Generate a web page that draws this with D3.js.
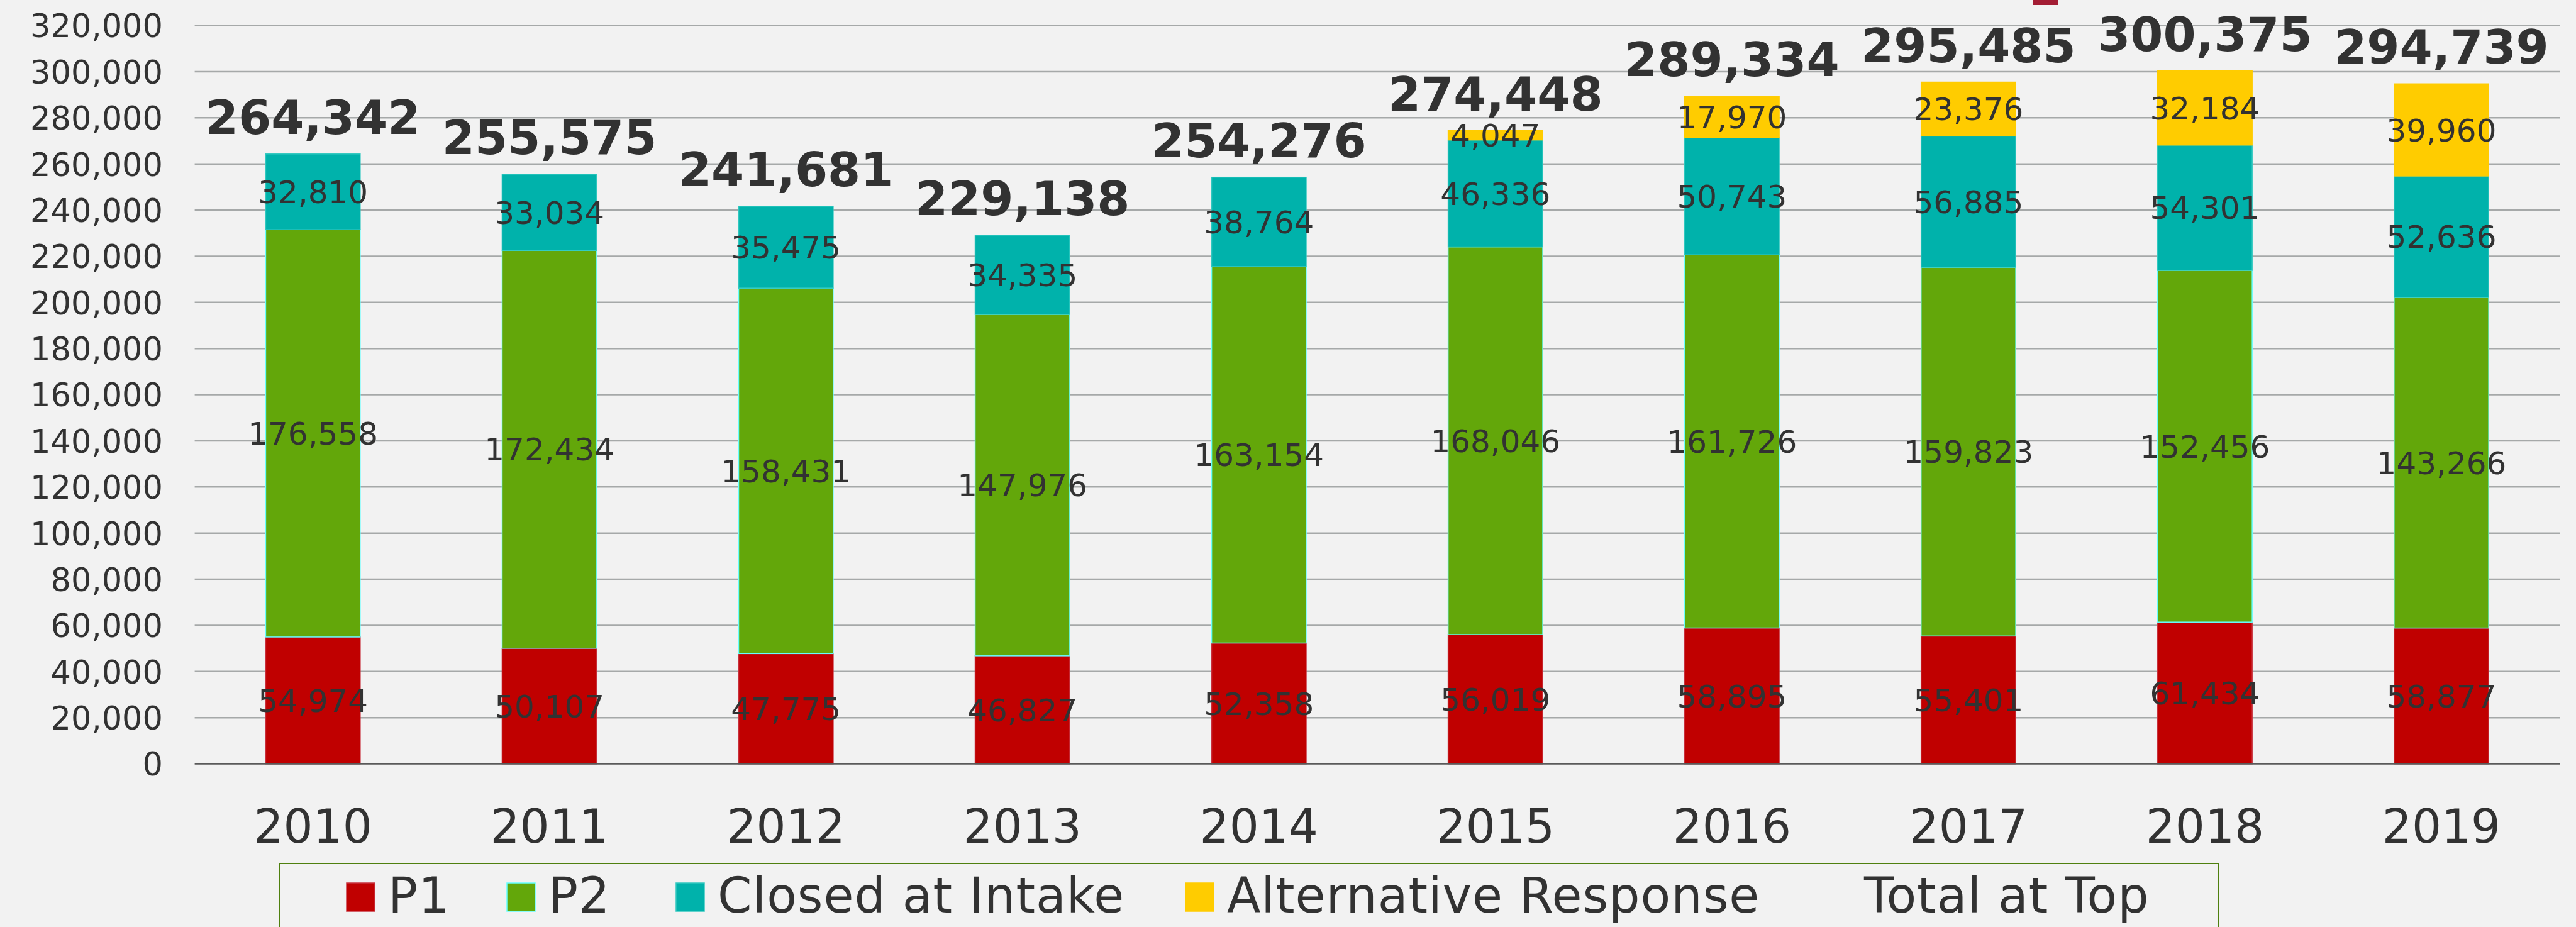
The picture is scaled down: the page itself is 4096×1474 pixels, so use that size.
<!DOCTYPE html>
<html>
<head>
<meta charset="utf-8">
<script src="https://d3js.org/d3.v7.min.js"></script>
<style>
  body { margin: 0; background: #f2f2f2; }
  text { font-family: "DejaVu Sans", sans-serif; fill: #323232; }
</style>
</head>
<body>
<script>
// data
var years = ["2010", "2011", "2012", "2013", "2014", "2015", "2016", "2017", "2018", "2019"];
var p1 = [54974, 50107, 47775, 46827, 52358, 56019, 58895, 55401, 61434, 58877];
var p2 = [176558, 172434, 158431, 147976, 163154, 168046, 161726, 159823, 152456, 143266];
var closedIntake = [32810, 33034, 35475, 34335, 38764, 46336, 50743, 56885, 54301, 52636];
var altResponse = [0, 0, 0, 0, 0, 4047, 17970, 23376, 32184, 39960];
var totals = [264342, 255575, 241681, 229138, 254276, 274448, 289334, 295485, 300375, 294739];
var yTicks = [0, 20000, 40000, 60000, 80000, 100000, 120000, 140000, 160000, 180000, 200000,
              220000, 240000, 260000, 280000, 300000, 320000];
var seriesNames = ["P1", "P2", "Closed at Intake", "Alternative Response", "Total at Top"];

var width = 4096, height = 1474;

var svg = d3.select("body").append("svg")
    .attr("width", width)
    .attr("height", height);

svg.append("rect")
    .attr("width", width)
    .attr("height", height)
    .attr("fill", "#f2f2f2");

var colors = {"P1": "#c00000", "P2": "#63a70a", "Closed at Intake": "#00b2ab", "Alternative Response": "#ffcc00"};
var strokes = {"P1": "#c8303c", "P2": "#66ffff", "Closed at Intake": "#30c8c0", "Alternative Response": "#ffcc00"};

// scales
var xScale = d3.scaleBand().domain(years).range([309.6, 4070]).paddingInner(0.6).paddingOuter(0.3);
var yScale = d3.scaleLinear().domain([0, 320000]).range([1214.6, 40.6]);

// gridlines
svg.append("g").selectAll("line")
    .data(yTicks.filter(function(d) { return d > 0; }))
  .enter().append("line")
    .attr("x1", 309.6).attr("x2", 4070)
    .attr("y1", function(d) { return yScale(d); })
    .attr("y2", function(d) { return yScale(d); })
    .attr("stroke", "#a6a9a9")
    .attr("stroke-width", 2.5);

// y axis labels
var yAxis = d3.axisLeft(yScale).tickValues(yTicks).tickSize(0).tickPadding(0)
    .tickFormat(d3.format(","));
var yg = svg.append("g")
    .attr("transform", "translate(259,0)")
    .call(yAxis);
yg.select(".domain").remove();
yg.selectAll("text")
    .attr("fill", "#323232")
    .style("font-size", "51px")
    .attr("dy", "0.36em");

// stack the data
var rows = years.map(function(y, i) {
  return {year: y, "P1": p1[i], "P2": p2[i], "Closed at Intake": closedIntake[i], "Alternative Response": altResponse[i]};
});
var stack = d3.stack().keys(seriesNames.slice(0, 4));
var layers = stack(rows);

var groups = svg.append("g").selectAll("g")
    .data(layers)
  .enter().append("g")
    .attr("fill", function(d) { return colors[d.key]; })
    .attr("stroke", function(d) { return strokes[d.key]; })
    .attr("stroke-width", 1.5);

groups.selectAll("rect")
    .data(function(d) { return d.filter(function(e) { return e[1] > e[0]; }); })
  .enter().append("rect")
    .attr("x", function(d) { return xScale(d.data.year); })
    .attr("y", function(d) { return yScale(d[1]); })
    .attr("width", xScale.bandwidth())
    .attr("height", function(d) { return yScale(d[0]) - yScale(d[1]); });

// baseline
svg.append("line")
    .attr("x1", 309.6).attr("x2", 4070)
    .attr("y1", yScale(0)).attr("y2", yScale(0))
    .attr("stroke", "#5a5a5a")
    .attr("stroke-width", 2.5);

// segment labels
layers.forEach(function(layer) {
  svg.append("g").selectAll("text")
      .data(layer.filter(function(e) { return e[1] > e[0]; }))
    .enter().append("text")
      .attr("x", function(d) { return xScale(d.data.year) + xScale.bandwidth() / 2; })
      .attr("y", function(d) { return yScale((d[0] + d[1]) / 2); })
      .attr("dy", "0.36em")
      .attr("text-anchor", "middle")
      .style("font-size", "50px")
      .text(function(d) { return d3.format(",")(d[1] - d[0]); });
});

// totals on top
svg.append("g").selectAll("text")
    .data(totals)
  .enter().append("text")
    .attr("x", function(d, i) { return xScale(years[i]) + xScale.bandwidth() / 2; })
    .attr("y", function(d) { return yScale(d) - 32; })
    .attr("text-anchor", "middle")
    .style("font-size", "75px")
    .style("font-weight", "bold")
    .text(function(d) { return d3.format(",")(d); });

// year labels
var xAxis = d3.axisBottom(xScale).tickSize(0).tickPadding(0);
var xg = svg.append("g")
    .attr("transform", "translate(0,1340)")
    .call(xAxis);
xg.select(".domain").remove();
xg.selectAll("text")
    .attr("fill", "#323232")
    .attr("dy", 0)
    .style("font-size", "74px");

// small cut-off mark at the top
svg.append("rect")
    .attr("x", 3232).attr("y", 0)
    .attr("width", 40).attr("height", 8)
    .attr("fill", "#a31d34");

// legend
svg.append("rect")
    .attr("x", 444).attr("y", 1373)
    .attr("width", 3083).attr("height", 140)
    .attr("fill", "none")
    .attr("stroke", "#4f800f")
    .attr("stroke-width", 2);

// swatch positions of the legend entries
var legendX = [551, 806, 1075, 1885, 2898];
seriesNames.forEach(function(name, i) {
  if (colors[name]) {
    svg.append("rect")
        .attr("x", legendX[i]).attr("y", 1404)
        .attr("width", 45).attr("height", 45)
        .attr("fill", colors[name])
        .attr("stroke", strokes[name])
        .attr("stroke-width", 1.5);
  }
  svg.append("text")
      .attr("x", legendX[i] + 66)
      .attr("y", 1451)
      .style("font-size", "78px")
      .style("letter-spacing", "1px")
      .text(name);
});
</script>
</body>
</html>
